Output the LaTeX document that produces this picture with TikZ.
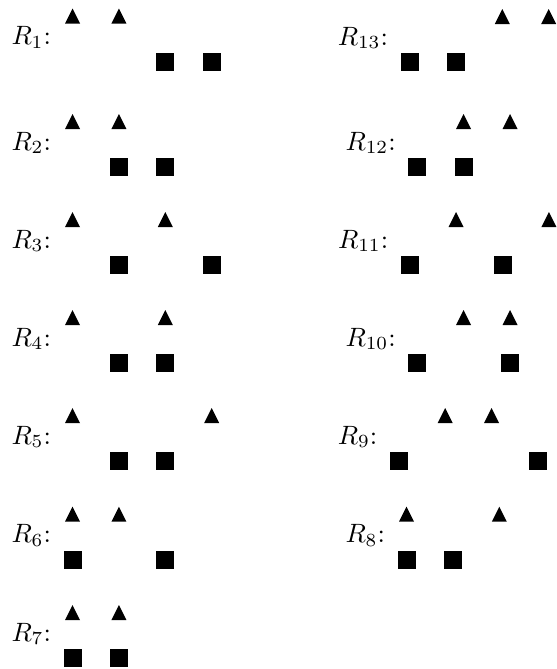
\documentclass[tikz,border=0pt]{standalone}
\tikzset{
  trimark/.pic={\fill (0,0) -- (7.5,15) -- (-7.5,15) -- cycle;},
  sqmark/.pic={\fill (-9,0) rectangle (9,18);},
  lbl/.style={anchor=base east, inner sep=0pt}
}
\newcommand\cellTri[1]{\pic at ({#1*46.4},0) {trimark};}
\newcommand\cellSq[1]{\pic at ({#1*46.4},44) {sqmark};}
\begin{document}
\begin{tikzpicture}[x=0.377pt,y=-0.377pt]
\useasboundingbox (0,0) rectangle (557,669);
% left column
\begin{scope}[shift={(72.5,8.5)}]
  \node[lbl] (r1) at (-21,36) {$R_{1}$:};
  \cellTri{0}\cellTri{1}\cellSq{2}\cellSq{3}
\end{scope}
\begin{scope}[shift={(72.5,114)}]
  \node[lbl] (r2) at (-21,36) {$R_{2}$:};
  \cellTri{0}\cellTri{1}\cellSq{1}\cellSq{2}
\end{scope}
\begin{scope}[shift={(72.5,212)}]
  \node[lbl] (r3) at (-21,36) {$R_{3}$:};
  \cellTri{0}\cellTri{2}\cellSq{1}\cellSq{3}
\end{scope}
\begin{scope}[shift={(72.5,310)}]
  \node[lbl] (r4) at (-21,36) {$R_{4}$:};
  \cellTri{0}\cellTri{2}\cellSq{1}\cellSq{2}
\end{scope}
\begin{scope}[shift={(72.5,408)}]
  \node[lbl] (r5) at (-21,36) {$R_{5}$:};
  \cellTri{0}\cellTri{3}\cellSq{1}\cellSq{2}
\end{scope}
\begin{scope}[shift={(72.5,506.7)}]
  \node[lbl] (r6) at (-21,36) {$R_{6}$:};
  \cellTri{0}\cellTri{1}\cellSq{0}\cellSq{2}
\end{scope}
\begin{scope}[shift={(72.5,605)}]
  \node[lbl] (r7) at (-21,36) {$R_{7}$:};
  \cellTri{0}\cellTri{1}\cellSq{0}\cellSq{1}
\end{scope}
% right column
\begin{scope}[shift={(409.5,9)}]
  \node[lbl] (r13) at (-21,36) {$R_{13}$:};
  \cellTri{2}\cellTri{3}\cellSq{0}\cellSq{1}
\end{scope}
\begin{scope}[shift={(417.2,114)}]
  \node[lbl] (r12) at (-21,36) {$R_{12}$:};
  \cellTri{1}\cellTri{2}\cellSq{0}\cellSq{1}
\end{scope}
\begin{scope}[shift={(409.7,212)}]
  \node[lbl] (r11) at (-21,36) {$R_{11}$:};
  \cellTri{1}\cellTri{3}\cellSq{0}\cellSq{2}
\end{scope}
\begin{scope}[shift={(417.2,310)}]
  \node[lbl] (r10) at (-21,36) {$R_{10}$:};
  \cellTri{1}\cellTri{2}\cellSq{0}\cellSq{2}
\end{scope}
\begin{scope}[shift={(398.8,408)}]
  \node[lbl] (r9) at (-21,36) {$R_{9}$:};
  \cellTri{1}\cellTri{2}\cellSq{0}\cellSq{3}
\end{scope}
\begin{scope}[shift={(406.5,506.7)}]
  \node[lbl] (r8) at (-21,36) {$R_{8}$:};
  \cellTri{0}\cellTri{2}\cellSq{0}\cellSq{1}
\end{scope}
\end{tikzpicture}
\end{document}
